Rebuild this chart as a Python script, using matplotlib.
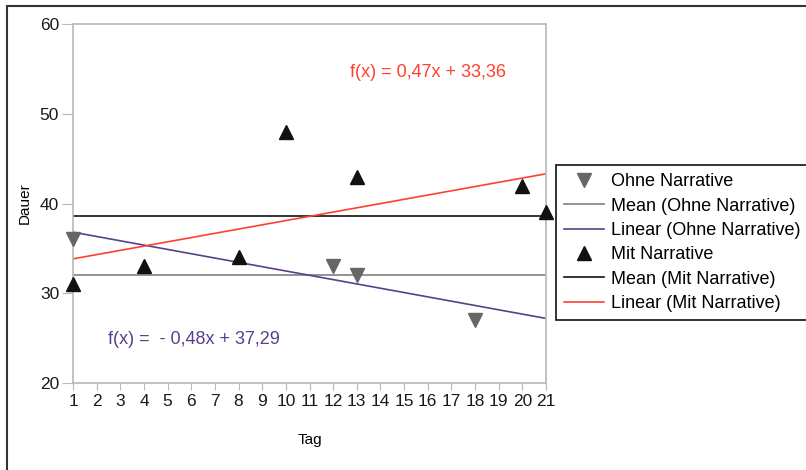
import numpy as np
import matplotlib.pyplot as plt
from matplotlib.patches import Rectangle

plt.rcParams['font.family'] = ['Liberation Sans', 'DejaVu Sans']

# data
days_ohne = [1, 12, 13, 18]
dauer_ohne = [36, 33, 32, 27]
days_mit = [1, 4, 8, 10, 13, 20, 21]
dauer_mit = [31, 33, 34, 48, 43, 42, 39]
x_ticks = list(range(1, 22))
y_ticks = [20, 30, 40, 50, 60]

# fits and means computed from the points
m_o, b_o = np.polyfit(days_ohne, dauer_ohne, 1)
m_m, b_m = np.polyfit(days_mit, dauer_mit, 1)
mean_o = np.mean(dauer_ohne)
mean_m = np.mean(dauer_mit)

red = '#ff4030'
purple = '#5b3f8c'
spine_col = '#b8b8b8'

fig = plt.figure(figsize=(8.06, 4.70), dpi=100)
ax = fig.add_axes([73/806, 1 - 383/470, (546 - 73)/806, (383 - 24)/470])

xs = np.array([1, 21])
ax.plot(days_ohne, dauer_ohne, 'v', color='#666666', ms=10, clip_on=False,
        label='Ohne Narrative', zorder=5)
ax.plot(xs, [mean_o, mean_o], color='#808080', lw=1.2, label='Mean (Ohne Narrative)')
ax.plot(xs, m_o * xs + b_o, color=purple, lw=1.2, label='Linear (Ohne Narrative)')
ax.plot(days_mit, dauer_mit, '^', color='#111111', ms=10, clip_on=False,
        label='Mit Narrative', zorder=5)
ax.plot(xs, [mean_m, mean_m], color='#111111', lw=1.2, label='Mean (Mit Narrative)')
ax.plot(xs, m_m * xs + b_m, color=red, lw=1.2, label='Linear (Mit Narrative)')

def fmt(v):
    return f'{abs(v):.2f}'.replace('.', ',')

ax.text(12.7, 54.65, f'f(x) = {fmt(m_m)}x + {fmt(b_m)}', color=red,
        fontsize=13, va='center', ha='left')
ax.text(2.48, 24.8, f'f(x) =  - {fmt(m_o)}x + {fmt(b_o)}', color=purple,
        fontsize=13, va='center', ha='left')

ax.set_xlim(1, 21)
ax.set_ylim(20, 60)
ax.set_xticks(x_ticks)
ax.set_yticks(y_ticks)
ax.tick_params(axis='x', length=5, color=spine_col, labelsize=12.5,
               labelcolor='#1a1a1a', pad=3)
ax.tick_params(axis='y', length=8, color=spine_col, labelsize=12.5,
               labelcolor='#1a1a1a', pad=2)
for s in ax.spines.values():
    s.set_color(spine_col)
    s.set_linewidth(1.2)

ax.set_xlabel('Tag', fontsize=11, labelpad=17)
ax.set_ylabel('Dauer', fontsize=11, labelpad=6)

leg = fig.legend(loc='upper left', bbox_to_anchor=(556/806, 1 - 165/470),
                 fontsize=13, frameon=True, fancybox=False, framealpha=1,
                 edgecolor='#111111', handlelength=2.2, handletextpad=0.4,
                 labelspacing=0.41, borderpad=0.45, borderaxespad=0)
leg.get_frame().set_linewidth(1.2)

fig.add_artist(Rectangle((7/806, -0.1), 1.2, 1 - 6/470 + 0.1,
                         transform=fig.transFigure, fill=False,
                         ec='#333333', lw=1.5))

fig.savefig('out.png', dpi=100)
